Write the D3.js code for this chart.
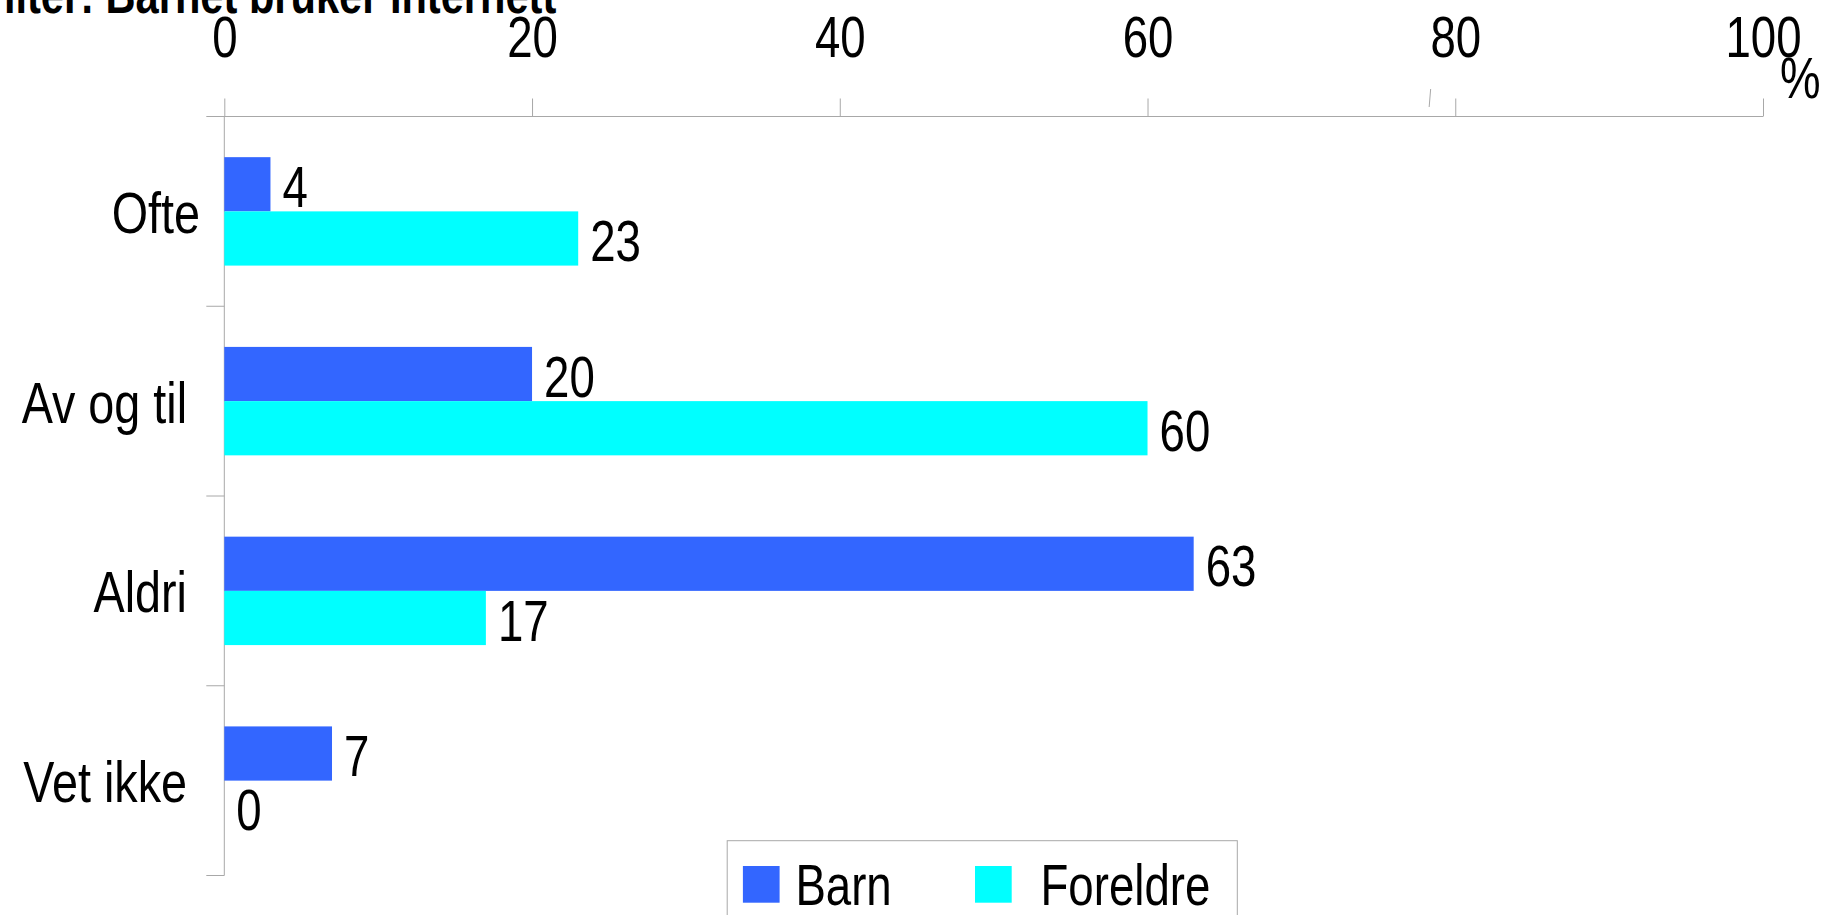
<!DOCTYPE html>
<html>
<head>
<meta charset="utf-8">
<script src="https://cdn.jsdelivr.net/npm/d3@7"></script>
<style>
  html, body { margin: 0; padding: 0; background: #fff; overflow: hidden; }
  svg { display: block; }
  text { font-family: "Liberation Sans", Arial, sans-serif; fill: #000; white-space: pre; }
</style>
</head>
<body>
<svg id="chart" width="1822" height="915"></svg>
<script>
// ---- data ----
const titleText = "Filter: Barnet bruker Internett";
const categories = ["Ofte", "Av og til ", "Aldri ", "Vet ikke "];
const seriesNames = ["Barn", "Foreldre"];
const barnValues = [3, 20, 63, 7];
const foreldreValues = [23, 60, 17, 0];
const barnLabels = ["4", "20", "63", "7"];
const foreldreLabels = ["23", "60", "17", "0"];
const xTickValues = [0, 20, 40, 60, 80, 100];
const xUnit = "%";
const seriesColors = ["#3366FF", "#00FFFF"];

// ---- layout ----
const W = 1822, H = 915;
const plot = { left: 224.3, right: 1763, top: 116.5, bottom: 875.5 };
const SX = 0.8;             // horizontal compression of the text
const SXC = 0.82;           // compression of category labels
const FS = 57;              // font size
const axisColor = "#a8a8a8";

const svg = d3.select("#chart");

const x = d3.scaleLinear().domain([0, 100]).range([plot.left, plot.right]);
const y = d3.scaleBand().domain(categories).range([plot.top, plot.bottom]).paddingInner(0).paddingOuter(0);
const ySub = d3.scaleBand().domain(seriesNames).range([0, y.bandwidth()]).paddingInner(0).paddingOuter(0.75);

function sText(parent, tx, ty, str, anchor, size, weight, sx) {
  const g = parent.append("g").attr("transform", `translate(${tx},${ty}) scale(${sx || SX},1)`);
  g.append("text")
    .attr("x", 0).attr("y", 0)
    .attr("text-anchor", anchor)
    .attr("font-size", size)
    .attr("font-weight", weight || "normal")
    .text(str);
  return g;
}

// title (partly cut off at the top-left, as in the reference)
sText(svg, -21.5, 13.3, titleText, "start", 52, "bold");

// top axis
const xAxis = d3.axisTop(x).tickValues(xTickValues).tickSize(18).tickSizeOuter(0).tickFormat(d3.format("d"));
const gx = svg.append("g").attr("transform", `translate(0,${plot.top})`).call(xAxis);
gx.select(".domain").remove();
gx.selectAll(".tick line").attr("stroke", axisColor).attr("stroke-width", 1);
gx.selectAll(".tick text")
  .attr("y", -59.5).attr("dy", "0")
  .attr("font-size", FS)
  .attr("font-family", "'Liberation Sans', Arial, sans-serif")
  .attr("fill", "#000")
  .attr("transform", `scale(${SX},1)`);
svg.append("line")
  .attr("x1", plot.left - 18).attr("x2", plot.right)
  .attr("y1", plot.top).attr("y2", plot.top)
  .attr("stroke", axisColor).attr("stroke-width", 1);
// small stray mark near the 80 tick
svg.append("line")
  .attr("x1", x(78.35) - 0.7).attr("x2", x(78.35) + 0.8)
  .attr("y1", 107).attr("y2", 89)
  .attr("stroke", axisColor).attr("stroke-width", 1);
// unit
sText(svg, 1780, 98, xUnit, "start", FS);

// left axis
svg.append("line")
  .attr("x1", plot.left).attr("x2", plot.left)
  .attr("y1", plot.top).attr("y2", plot.bottom)
  .attr("stroke", axisColor).attr("stroke-width", 1);
const boundaries = categories.map(c => y(c) + y.bandwidth());
svg.append("g").selectAll("line").data(boundaries).join("line")
  .attr("x1", plot.left - 18).attr("x2", plot.left)
  .attr("y1", d => d).attr("y2", d => d)
  .attr("stroke", axisColor).attr("stroke-width", 1);

// category labels
categories.forEach(c => {
  sText(svg, 200, y(c) + y.bandwidth() / 2 + 21.5, c, "end", FS, "normal", SXC);
});

// bars
const rows = categories.map((c, i) => ({
  cat: c,
  vals: [
    { s: seriesNames[0], v: barnValues[i], lab: barnLabels[i], col: seriesColors[0] },
    { s: seriesNames[1], v: foreldreValues[i], lab: foreldreLabels[i], col: seriesColors[1] }
  ]
}));

const gBars = svg.append("g");
rows.forEach(r => {
  r.vals.forEach(d => {
    const top = y(r.cat) + ySub(d.s);
    const h = ySub.bandwidth();
    if (d.v > 0) {
      gBars.append("rect")
        .attr("x", x(0)).attr("y", top)
        .attr("width", x(d.v) - x(0)).attr("height", h)
        .attr("fill", d.col);
    }
    sText(gBars, x(d.v) + 12, top + h - 4.5, d.lab, "start", FS);
  });
});

// legend
const leg = svg.append("g");
leg.append("rect")
  .attr("x", 727.2).attr("y", 840.7).attr("width", 1237.3 - 727.2).attr("height", 120)
  .attr("fill", "#fff").attr("stroke", axisColor).attr("stroke-width", 1);
const legX = [742.9, 975];
seriesNames.forEach((s, i) => {
  leg.append("rect")
    .attr("x", legX[i]).attr("y", 866).attr("width", 36.7).attr("height", 36.7)
    .attr("fill", seriesColors[i]);
  sText(leg, legX[i] + 54.5 + (i === 1 ? 13 : 0) - 2, 905, s, "start", FS);
});
</script>
</body>
</html>
